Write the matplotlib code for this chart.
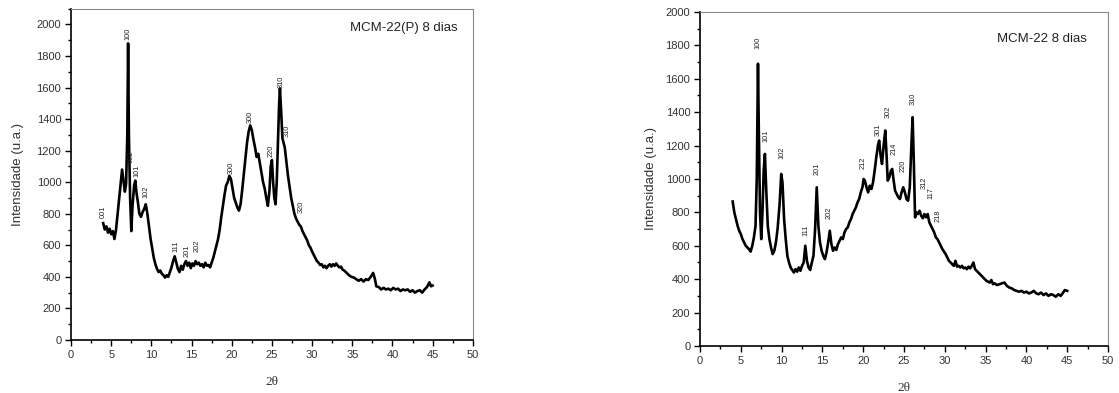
import matplotlib

matplotlib.use("Agg")

import matplotlib.pyplot as plt
from matplotlib.ticker import MultipleLocator

# --- MCM-22(P) 8 dias (left panel) ---
TT_P = [4.0, 4.2, 4.4, 4.6, 4.8, 5.0, 5.2, 5.4, 5.6, 5.8, 6.0, 6.2, 6.35, 6.5, 6.7, 6.85,
        7.0, 7.1, 7.2, 7.35, 7.5, 7.65, 7.85, 8.0, 8.15, 8.3, 8.5, 8.7, 8.9, 9.1, 9.3, 9.5,
        9.7, 9.9, 10.1, 10.3, 10.5, 10.7, 10.9, 11.1, 11.3, 11.5, 11.7, 11.9, 12.1, 12.3,
        12.5, 12.7, 12.9, 13.1, 13.3, 13.5, 13.7, 13.9, 14.1, 14.3, 14.5, 14.7, 14.9, 15.1,
        15.3, 15.5, 15.7, 15.9, 16.1, 16.3, 16.5, 16.7, 16.9, 17.1, 17.3, 17.5, 17.7, 17.9,
        18.1, 18.3, 18.5, 18.7, 18.9, 19.1, 19.3, 19.5, 19.7, 19.9, 20.1, 20.3, 20.5, 20.7,
        20.9, 21.1, 21.3, 21.5, 21.7, 21.9, 22.1, 22.3, 22.5, 22.7, 22.9, 23.1, 23.3, 23.5,
        23.7, 23.9, 24.1, 24.3, 24.5, 24.7, 24.85, 25.0, 25.15, 25.3, 25.45, 25.6, 25.75,
        25.9, 26.0, 26.15, 26.3, 26.45, 26.6, 26.8, 27.0, 27.2, 27.4, 27.6, 27.8, 28.0, 28.2,
        28.4, 28.6, 28.8, 29.0, 29.2, 29.4, 29.6, 29.8, 30.0, 30.2, 30.4, 30.6, 30.8, 31.0,
        31.2, 31.4, 31.6, 31.8, 32.0, 32.2, 32.4, 32.6, 32.8, 33.0, 33.2, 33.4, 33.6, 33.8,
        34.0, 34.3, 34.6, 34.9, 35.2, 35.5, 35.8, 36.1, 36.4, 36.7, 37.0, 37.3, 37.6, 37.8,
        38.0, 38.3, 38.6, 38.9, 39.2, 39.5, 39.8, 40.1, 40.4, 40.7, 41.0, 41.3, 41.6, 41.9,
        42.2, 42.5, 42.8, 43.1, 43.4, 43.7, 44.0, 44.3, 44.6, 44.8, 45.0]
INT_P = [740, 700, 720, 680, 705, 670, 690, 640, 700, 800, 900, 1000, 1080, 1020, 940, 990,
         1300, 1880, 1300, 900, 690, 850, 980, 1010, 930, 880, 800, 780, 810, 830, 860, 800,
         720, 640, 580, 520, 480, 450, 430, 440, 420, 410, 395, 410, 400, 430,
         460, 500, 530, 490, 450, 430, 470, 445, 480, 500, 470, 490, 455, 485,
         470, 500, 480, 490, 470, 480, 460, 490, 470, 475, 460, 490, 520, 560,
         600, 640, 700, 780, 850, 920, 980, 1000, 1040, 1020, 960, 900, 870, 840,
         820, 860, 950, 1050, 1150, 1250, 1320, 1360, 1330, 1270, 1220, 1160, 1180, 1120,
         1060, 1000, 960, 900, 850, 950, 1100, 1140, 1000, 900, 860, 1000, 1250,
         1500, 1595, 1450, 1280, 1250, 1220, 1130, 1040, 970, 900, 850, 800, 770, 750,
         730, 720, 690, 670, 650, 630, 600, 585, 560, 540, 520, 500, 490, 475,
         480, 460, 470, 455, 470, 480, 465, 480, 470, 485, 470, 460, 465, 445,
         440, 425, 410, 400, 395, 385, 375, 385, 370, 385, 380, 400, 425, 390,
         340, 335, 320, 330, 320, 325, 315, 330, 320, 325, 310, 320, 315, 320,
         305, 315, 300, 310, 315, 300, 320, 335, 365, 340, 345]

LABELS_P = ["001", "100", "002", "101", "102", "111", "201", "202", "300", "300", "220",
            "310", "310", "320"]
LABEL_TT_P = [4.0, 7.1, 7.5, 8.2, 9.3, 13.0, 14.4, 15.7, 19.9, 22.3, 24.9, 26.1, 26.9, 28.6]
LABEL_INT_P = [775, 1900, 1120, 1030, 900, 557, 525, 557, 1050, 1375, 1160, 1600, 1285, 805]

# --- MCM-22 8 dias (right panel) ---
TT_C = [4.0, 4.2, 4.4, 4.6, 4.8, 5.0, 5.2, 5.4, 5.6, 5.8, 6.0, 6.2, 6.4, 6.6, 6.8, 6.95,
        7.1, 7.2, 7.35, 7.5, 7.65, 7.8, 7.95, 8.1, 8.3, 8.5, 8.7, 8.9, 9.1, 9.3, 9.5, 9.75,
        9.95, 10.1, 10.3, 10.5, 10.7, 10.9, 11.1, 11.3, 11.5, 11.7, 11.9, 12.1, 12.3, 12.5,
        12.7, 12.9, 13.1, 13.3, 13.5, 13.7, 13.9, 14.1, 14.3, 14.5, 14.7, 14.9, 15.1, 15.3,
        15.5, 15.7, 15.9, 16.1, 16.3, 16.5, 16.7, 16.9, 17.1, 17.3, 17.5, 17.7, 17.9, 18.1,
        18.3, 18.5, 18.7, 18.9, 19.1, 19.3, 19.5, 19.7, 19.9, 20.05, 20.2, 20.4, 20.6, 20.8,
        21.0, 21.2, 21.4, 21.6, 21.8, 21.95, 22.1, 22.3, 22.5, 22.7, 22.85, 23.0, 23.2, 23.4,
        23.55, 23.7, 23.9, 24.1, 24.3, 24.5, 24.7, 24.9, 25.1, 25.3, 25.5, 25.7, 25.9, 26.05,
        26.2, 26.35, 26.5, 26.7, 26.9, 27.1, 27.3, 27.5, 27.7, 27.9, 28.1, 28.3, 28.5, 28.7,
        28.9, 29.1, 29.3, 29.5, 29.7, 29.9, 30.1, 30.3, 30.5, 30.7, 30.9, 31.1, 31.3, 31.5,
        31.7, 31.9, 32.1, 32.3, 32.5, 32.7, 32.9, 33.1, 33.3, 33.5, 33.7, 33.9, 34.1, 34.3,
        34.5, 34.7, 34.9, 35.1, 35.3, 35.5, 35.7, 35.9, 36.1, 36.4, 36.7, 37.0, 37.3, 37.6,
        37.9, 38.2, 38.5, 38.8, 39.1, 39.4, 39.7, 40.0, 40.3, 40.6, 40.9, 41.2, 41.5, 41.8,
        42.1, 42.4, 42.7, 43.0, 43.3, 43.6, 43.9, 44.2, 44.5, 44.7, 45.0]
INT_C = [865, 800, 760, 720, 690, 670, 640, 620, 600, 590, 580, 565, 600, 650, 720, 1000,
         1690, 1300, 800, 640, 800, 1050, 1150, 950, 720, 640, 590, 550, 570, 620, 700, 850,
         1030, 980, 760, 640, 540, 500, 470, 455, 440, 460, 445, 470, 450, 480,
         500, 600, 510, 470, 455, 500, 540, 700, 950, 720, 620, 570, 540, 520,
         560, 620, 690, 610, 570, 590, 575, 610, 630, 650, 640, 680, 700, 710,
         740, 760, 790, 810, 830, 860, 880, 920, 950, 1000, 990, 950, 920, 960,
         940, 980, 1050, 1130, 1200, 1230, 1150, 1090, 1200, 1290, 1150, 990, 1010, 1050,
         1060, 1000, 930, 910, 890, 880, 920, 950, 920, 880, 870, 950, 1200, 1370,
         1100, 770, 800, 790, 810, 780, 765, 790, 770, 790, 740, 720, 700, 680,
         650, 640, 620, 600, 580, 565, 550, 530, 510, 500, 490, 480, 510, 475,
         480, 470, 480, 465, 470, 460, 475, 465, 480, 500, 460, 450, 440, 430,
         420, 410, 400, 390, 385, 380, 395, 370, 375, 365, 370, 375, 380, 360,
         350, 345, 335, 330, 325, 330, 320, 325, 315, 320, 330, 315, 310, 320,
         305, 315, 300, 310, 305, 295, 310, 300, 320, 335, 330]

LABELS_C = ["100", "101", "102", "111", "201", "202", "212", "301", "302", "214", "220",
            "310", "312", "117", "218"]
LABEL_TT_C = [7.1, 8.1, 10.05, 13.0, 14.3, 15.8, 19.95, 21.8, 23.0, 23.8, 24.9, 26.1, 27.5,
              28.3, 29.2]
LABEL_INT_C = [1780, 1220, 1118, 657, 1024, 763, 1060, 1260, 1367, 1142, 1041, 1444, 941,
               882, 745]

SANS = ["Liberation Sans", "DejaVu Sans"]
SERIF = ["Liberation Serif", "DejaVu Serif"]


def style(ax, ytop, ylabelpad):
    ax.set_xlim(0, 50)
    ax.set_ylim(0, ytop)
    ax.xaxis.set_major_locator(MultipleLocator(5))
    ax.xaxis.set_minor_locator(MultipleLocator(2.5))
    ax.yaxis.set_major_locator(MultipleLocator(200))
    ax.yaxis.set_minor_locator(MultipleLocator(100))
    ax.tick_params(which="major", direction="out", length=4, width=1.0, labelsize=8, pad=3)
    ax.tick_params(which="minor", direction="out", length=2.5, width=1.0)
    for lab in ax.get_xticklabels() + ax.get_yticklabels():
        lab.set_family(SANS)
        lab.set_color("#333333")
    ax.spines["left"].set_linewidth(1.2)
    ax.spines["bottom"].set_linewidth(1.2)
    for side in ("top", "right"):
        ax.spines[side].set_color("#888888")
        ax.spines[side].set_linewidth(0.8)
    ax.set_xlabel("2θ", family=SERIF, fontsize=9.5, color="#333333", labelpad=12)
    ax.set_ylabel("Intensidade (u.a.)", family=SANS, fontsize=9.5, color="#333333",
                  labelpad=ylabelpad)


def draw_panel(ax, tt, inten, labels, lab_tt, lab_int, title, title_xy, ytop, ylabelpad):
    ax.plot(tt, inten, color="black", linewidth=1.9, solid_joinstyle="round")
    for name, x, y in zip(labels, lab_tt, lab_int):
        ax.text(x, y, name, rotation=90, ha="center", va="bottom", fontsize=5.3,
                family=SANS, color="#222222")
    ax.text(title_xy[0], title_xy[1], title, transform=ax.transAxes, ha="right",
            va="center", fontsize=9.5, family=SANS, color="#222222")
    style(ax, ytop, ylabelpad)


fig = plt.figure(figsize=(11.19, 3.93), dpi=100)
fig.patch.set_facecolor("white")

ax_l = fig.add_axes([0.0635, 0.135, 0.359, 0.843])
draw_panel(ax_l, TT_P, INT_P, LABELS_P, LABEL_TT_P, LABEL_INT_P, "MCM-22(P) 8 dias",
           (0.963, 0.943), 2100, 9)

ax_r = fig.add_axes([0.6256, 0.1196, 0.3646, 0.85])
draw_panel(ax_r, TT_C, INT_C, LABELS_C, LABEL_TT_C, LABEL_INT_C, "MCM-22 8 dias",
           (0.949, 0.92), 2000, 6)

fig.savefig("out.png", dpi=100, facecolor="white")
